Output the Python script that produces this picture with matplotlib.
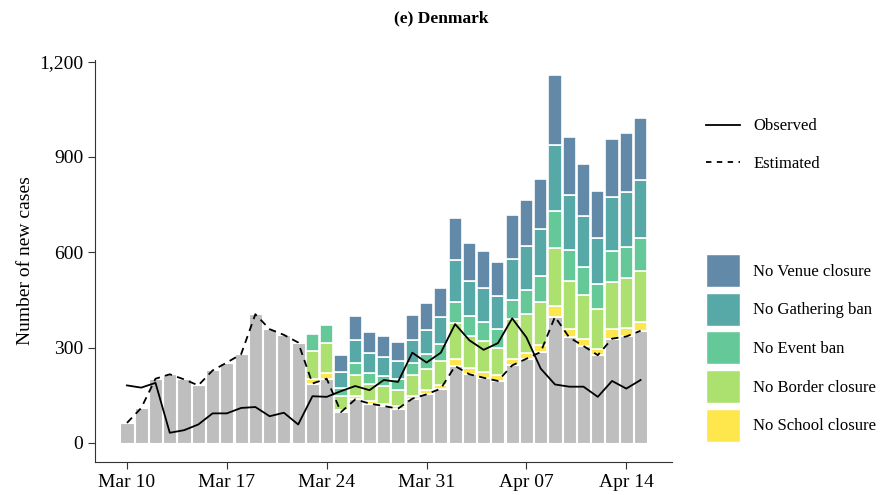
import matplotlib.pyplot as plt
import matplotlib.ticker as mticker
from matplotlib.lines import Line2D
from matplotlib.patches import Patch
import numpy as np
import pandas as pd

plt.rcParams['font.family'] = ['Liberation Serif', 'DejaVu Serif']

# %%
# Daily data, Mar 10 - Apr 15
dates = pd.date_range('2020-03-10', '2020-04-15', freq='D')

# Estimated new cases (grey bars / dashed line)
estimated = [63, 110, 202, 216, 200, 181, 228, 253, 279, 405, 358, 340, 316,
             187, 202, 97, 137, 124, 116, 108, 139, 153, 171, 242, 216, 205,
             195, 244, 265, 286, 397, 332, 305, 276, 328, 335, 353]

# Observed new cases (solid line)
observed = [181, 174, 189, 32, 40, 58, 93, 93, 110, 113, 84, 95, 58,
            147, 145, 163, 179, 166, 198, 192, 284, 253, 284, 374, 323, 293,
            314, 392, 332, 234, 184, 177, 177, 145, 195, 171, 198]

# Extra cases without each intervention (stacked on top), zero before Mar 23
pad = [0] * 13
no_school = pad + [15, 19, 6, 10, 7, 5, 8, 10, 13, 10, 21, 21, 19, 19, 21, 19,
                   21, 35, 28, 23, 21, 30, 28, 29]
no_border = pad + [87, 92, 44, 66, 53, 58, 52, 64, 68, 77, 113, 100, 97, 86,
                   124, 121, 135, 181, 151, 138, 124, 149, 155, 160]
no_event = pad + [53, 59, 27, 40, 37, 31, 32, 40, 45, 53, 69, 61, 61, 58, 62,
                  77, 82, 116, 97, 89, 79, 96, 98, 102]
no_gathering = pad + [0, 0, 50, 70, 63, 60, 58, 71, 77, 84, 131, 113, 107, 103,
                      128, 137, 150, 208, 173, 158, 144, 171, 173, 182]
no_venue = pad + [0, 0, 52, 77, 65, 65, 60, 79, 84, 93, 131, 118, 116, 107,
                  137, 146, 158, 221, 181, 165, 150, 184, 185, 197]

layers = [('No School closure', no_school, '#fde74c'),
          ('No Border closure', no_border, '#ace06f'),
          ('No Event ban', no_event, '#65c899'),
          ('No Gathering ban', no_gathering, '#56a9a6'),
          ('No Venue closure', no_venue, '#6389a9')]

tick_days = ['2020-03-10', '2020-03-17', '2020-03-24', '2020-03-31',
             '2020-04-07', '2020-04-14']
tick_labels = ['Mar 10', 'Mar 17', 'Mar 24', 'Mar 31', 'Apr 07', 'Apr 14']

# %%
x = np.arange(len(dates))
fig = plt.figure(figsize=(8.83, 4.95), dpi=100, facecolor='white')
ax = fig.add_axes([0.1076, 0.0667, 0.6534, 0.812])

ax.bar(x, estimated, width=0.92, color='#bebebe', edgecolor='white',
       linewidth=0.8)
bottom = np.array(estimated, dtype=float)
for label, vals, col in layers:
    vals = np.array(vals, dtype=float)
    m = vals > 0
    ax.bar(x[m], vals[m], bottom=bottom[m], width=0.92, color=col,
           edgecolor='white', linewidth=1.2)
    bottom = bottom + vals

ax.plot(x, observed, color='black', linewidth=1.3)
ax.plot(x, estimated, color='black', linewidth=1.3, linestyle=(0, (4, 3)))

# Axes styling
ax.set_xlim(-2.24, 38.2)
ax.set_ylim(-60, 1205)
ax.set_yticks([0, 300, 600, 900, 1200])
ax.yaxis.set_major_formatter(mticker.StrMethodFormatter('{x:,.0f}'))
tick_pos = [dates.get_loc(pd.Timestamp(d)) for d in tick_days]
ax.set_xticks(tick_pos)
ax.set_xticklabels(tick_labels)
ax.tick_params(labelsize=14, length=5, color='#333333')
for side in ['top', 'right']:
    ax.spines[side].set_visible(False)
for side in ['left', 'bottom']:
    ax.spines[side].set_color('#333333')
ax.set_ylabel('Number of new cases', fontsize=14)
fig.text(0.5, 0.963, '(e) Denmark', ha='center', va='center',
         fontsize=12.5, fontweight='bold')

# Legends
line_handles = [Line2D([], [], color='black', lw=1.3),
                Line2D([], [], color='black', lw=1.3, ls=(0, (3, 3)))]
fig.legend(line_handles, ['Observed', 'Estimated'],
           loc='upper left', bbox_to_anchor=(0.783, 0.791),
           frameon=False, fontsize=12, handlelength=2.0,
           labelspacing=1.3)
patch_handles = [Patch(facecolor=col, edgecolor='white')
                 for _, _, col in layers[::-1]]
fig.legend(patch_handles, [l for l, _, _ in layers[::-1]],
           loc='upper left', bbox_to_anchor=(0.783, 0.517),
           frameon=False, fontsize=12, handlelength=2.0, handleheight=2.67,
           labelspacing=0.34)

fig.savefig('out.png', dpi=100)
